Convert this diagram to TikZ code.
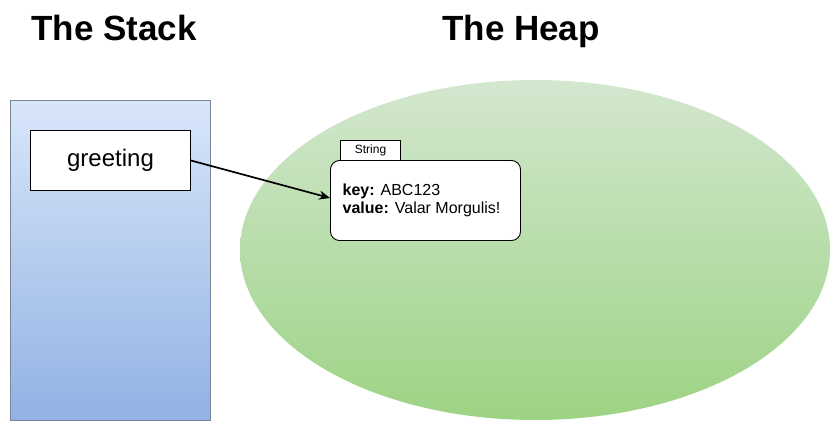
\documentclass[tikz,border=0pt]{standalone}
\usepackage{fontspec}
\setmainfont{Liberation Sans}
\usetikzlibrary{arrows.meta}
\definecolor{stacktop}{HTML}{D8E6FA}
\definecolor{stackbot}{HTML}{92B2E3}
\definecolor{stackline}{HTML}{7A8496}
\definecolor{heaptop}{HTML}{D3E7CF}
\definecolor{heapbot}{HTML}{9DD384}
\tikzset{
  title/.style={font=\bfseries\fontsize{35}{40}\selectfont, anchor=base, inner sep=0pt},
  whitebox/.style={draw=black, fill=white, line width=0.9pt},
  txt/.style={inner sep=0pt, anchor=base west, font=\fontsize{16}{18}\selectfont},
}
\begin{document}
\begin{tikzpicture}[x=1pt,y=-1pt]
\useasboundingbox (0,0) rectangle (831,421);
% titles
\node[title] (t1) at (114,40) {The Stack};
\node[title] (t2) at (521,40) {The Heap};
% stack
\shade[top color=stacktop, bottom color=stackbot] (10.5,100.5) rectangle (210.5,420.5);
\draw[stackline, line width=0.8pt] (10.5,100.5) rectangle (210.5,420.5);
\node[whitebox, minimum width=160pt, minimum height=60pt, inner sep=0pt,
      font=\fontsize{24}{28}\selectfont] (greet) at (110.5,160.5) {greeting};
% heap
\shade[top color=heaptop, bottom color=heapbot] (535,250) ellipse [x radius=295, y radius=170];
% string object
\node[whitebox, minimum width=60pt, minimum height=20pt, inner sep=0pt,
      font=\fontsize{12}{14}\selectfont] (tab) at (370.5,150.5) {String};
\node[whitebox, rounded corners=9pt, minimum width=190pt, minimum height=80pt, inner sep=0pt] (obj) at (425.5,200.5) {};
\node[txt] (k) at (342.5,195) {\textbf{key:} ABC123};
\node[txt] (v) at (342.5,213) {\textbf{value:} Valar Morgulis!};
% arrow
\draw[line width=1.7pt, -{Stealth[length=11pt,width=9pt]}] (greet.east) -- (obj.west |- 0,198);
\end{tikzpicture}
\end{document}
